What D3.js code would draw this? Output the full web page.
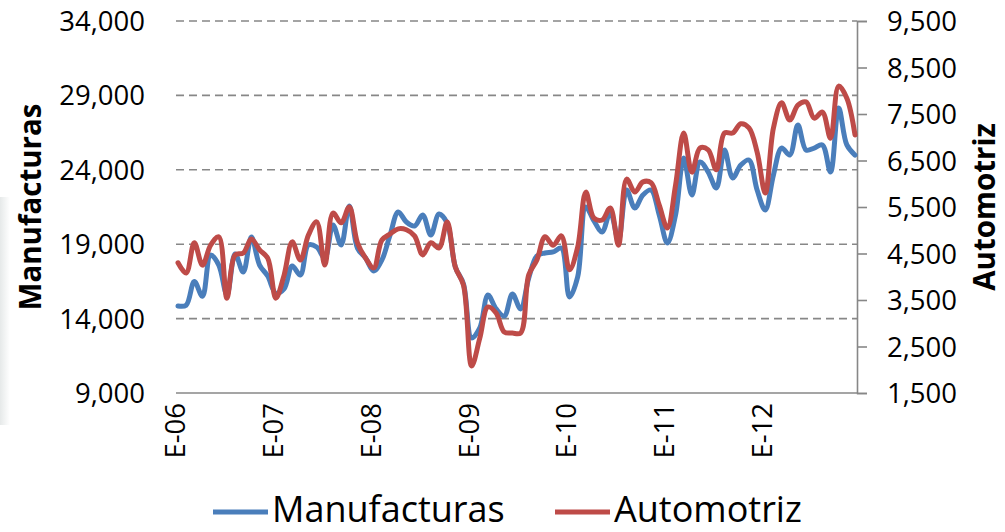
<!DOCTYPE html>
<html><head><meta charset="utf-8">
<script src="https://cdn.jsdelivr.net/npm/d3@7"></script>
<style>
body{margin:0;background:#fff;}
svg{display:block;font-family:"Open Sans",sans-serif;}
</style>
</head><body>
<svg id="c" width="1005" height="532"></svg>
<script>
// Monthly data, Jan 2006 - Dec 2012
const manufacturas = [
14850,14900,16500,15500,18270,17600,15600,18340,17130,19480,17600,16860,
15700,15990,17530,16930,18950,18810,18070,20290,18950,21570,18740,18070,
17200,17940,19620,21160,20490,20220,20960,19620,21030,20420,17470,16330,
12700,13370,15590,14650,14170,15650,14650,16730,18210,18410,18480,18740,
15450,16800,21500,20560,19820,21160,19280,22640,21430,22310,22640,20960,
19080,20960,24790,22310,24520,23850,22780,25330,23450,24320,24660,22640,
21300,23650,25460,24990,27010,25330,25460,25670,23850,28150,25670,24990];
const automotriz = [
4300,4080,4730,4250,4680,4860,3540,4470,4510,4810,4580,4400,
3540,4030,4750,4360,4900,5180,4250,5370,5160,5500,4730,4400,
4190,4790,4920,5030,5010,4880,4470,4730,4620,5180,4210,3820,
2080,2680,3350,3220,2810,2790,2790,4040,4360,4860,4680,4880,
4150,4640,5820,5260,5220,5480,4680,6100,5820,6040,6020,5540,
5050,5970,7090,6250,6770,6730,6300,7090,7090,7290,7200,6680,
5800,7200,7740,7370,7690,7760,7410,7540,6980,8100,7840,7050];
const xTickLabels = ["E-06","E-07","E-08","E-09","E-10","E-11","E-12"];
const xTickIndex = [0,12,24,36,48,60,72];
const leftTicks = [9000,14000,19000,24000,29000,34000];
const rightTicks = [1500,2500,3500,4500,5500,6500,7500,8500,9500];
const seriesNames = ["Manufacturas","Automotriz"];
const colors = ["#4A7EBB","#BE4B48"];

const svg = d3.select("#c");
const plotL = 176, plotR = 857, plotT = 21, plotB = 393;
const x = d3.scaleLinear().domain([0, manufacturas.length - 1]).range([178, 855]);
const yL = d3.scaleLinear().domain([9000, 34000]).range([plotB, plotT]);
const yR = d3.scaleLinear().domain([1500, 9500]).range([plotB, plotT]);
const fmt = d3.format(",");
const gridColor = "#878787";

// left edge shadow artifact
const defs = svg.append("defs");
const lg = defs.append("linearGradient").attr("id","sh").attr("x1","0").attr("x2","1");
lg.append("stop").attr("offset","0").attr("stop-color","#e6e9e9");
lg.append("stop").attr("offset","1").attr("stop-color","#ffffff");
svg.append("rect").attr("x",0).attr("y",197).attr("width",10).attr("height",228).attr("fill","url(#sh)");

// gridlines (left axis)
svg.append("g").selectAll("line").data(leftTicks.filter(d => d !== 9000)).join("line")
  .attr("x1", plotL).attr("x2", plotR)
  .attr("y1", d => yL(d)).attr("y2", d => yL(d))
  .attr("stroke", gridColor).attr("stroke-width", 1.6).attr("stroke-dasharray", "8,5");

// left tick labels
svg.append("g").selectAll("text").data(leftTicks).join("text")
  .attr("x", 145).attr("y", d => yL(d)).attr("dy", "0.36em")
  .attr("text-anchor", "end").attr("font-size", 27.5).attr("fill", "#000")
  .text(d => fmt(d));

// right axis
const rAxis = d3.axisRight(yR).tickValues(rightTicks).tickSize(10).tickFormat(fmt);
const rg = svg.append("g").attr("transform", `translate(${plotR},0)`).call(rAxis);
rg.select(".domain").attr("stroke", gridColor).attr("stroke-width", 1.6);
rg.selectAll(".tick line").attr("stroke", gridColor).attr("stroke-width", 1.6);
rg.selectAll(".tick text").attr("x", 30).attr("dy", "0.36em")
  .attr("font-size", 27.5).attr("fill", "#000").attr("font-family", "Open Sans, sans-serif");

// bottom axis line
svg.append("line").attr("x1", plotL).attr("x2", plotR).attr("y1", plotB).attr("y2", plotB)
  .attr("stroke", gridColor).attr("stroke-width", 1.6);

// x tick labels
svg.append("g").selectAll("text").data(xTickIndex).join("text")
  .attr("transform", d => `translate(${x(d)},${plotB + 10}) rotate(-90)`)
  .attr("dy", "0.25em").attr("text-anchor", "end")
  .attr("font-size", 27.5).attr("fill", "#000")
  .text((d, i) => xTickLabels[i]);

// lines
const line = (ys, data) => d3.line()
  .x((d, i) => x(i)).y(d => ys(d))
  .curve(d3.curveCatmullRom.alpha(0.5))(data);
svg.append("path").attr("d", line(yL, manufacturas))
  .attr("fill", "none").attr("stroke", colors[0]).attr("stroke-width", 5)
  .attr("stroke-linejoin", "round").attr("stroke-linecap", "round");
svg.append("path").attr("d", line(yR, automotriz))
  .attr("fill", "none").attr("stroke", colors[1]).attr("stroke-width", 5)
  .attr("stroke-linejoin", "round").attr("stroke-linecap", "round");

// axis titles
svg.append("text").attr("transform", `translate(41,${(plotT + plotB) / 2}) rotate(-90)`)
  .attr("text-anchor", "middle").attr("font-size", 29.5).attr("font-weight", "bold")
  .text(seriesNames[0]);
svg.append("text").attr("transform", `translate(995,${(plotT + plotB) / 2}) rotate(-90)`)
  .attr("text-anchor", "middle").attr("font-size", 29.5).attr("font-weight", "bold")
  .text(seriesNames[1]);

// legend
const legendItems = [{x: 213, tx: 272}, {x: 555, tx: 614}];
legendItems.forEach((p, i) => {
  svg.append("line").attr("x1", p.x).attr("x2", p.x + 55).attr("y1", 512).attr("y2", 512)
    .attr("stroke", colors[i]).attr("stroke-width", 5);
  svg.append("text").attr("x", p.tx).attr("y", 522).attr("font-size", 36).attr("fill", "#000")
    .text(seriesNames[i]);
});
</script>
</body></html>
